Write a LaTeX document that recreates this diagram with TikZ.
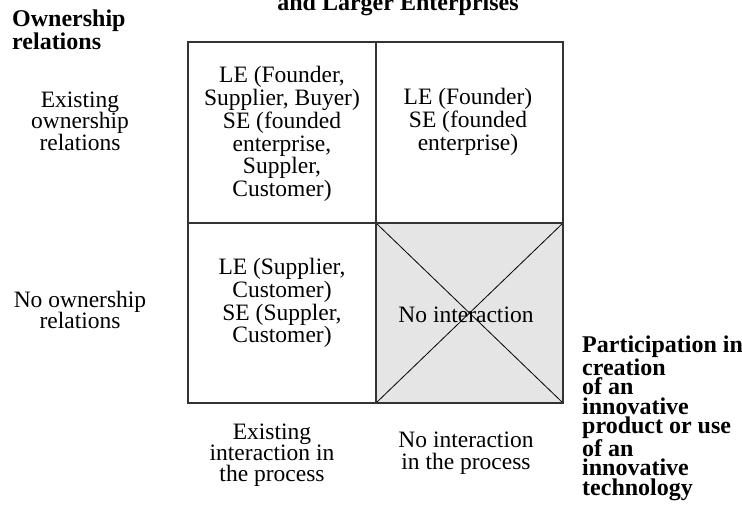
\documentclass[tikz,border=0pt]{standalone}
\usepackage{fontspec}
\setmainfont{Liberation Serif}
\begin{document}
\begin{tikzpicture}[x=1pt,y=-1pt,
  grid/.style={draw=black!80,line width=1.2pt},
  diag/.style={draw=black,line width=0.8pt},
  celltext/.style={align=center,inner sep=0pt,font=\fontsize{23.5}{22.7}\selectfont},
  sidetext/.style={align=center,inner sep=0pt,font=\fontsize{23.5}{21.5}\selectfont},
  boldtext/.style={align=left,inner sep=0pt,font=\bfseries\fontsize{24}{19.3}\selectfont}]
\useasboundingbox (0,0) rectangle (742,514);
% grid corners
\coordinate (tl) at (188,42);
\coordinate (tm) at (376,42);
\coordinate (tr) at (563,42);
\coordinate (ml) at (188,223);
\coordinate (mm) at (376,223);
\coordinate (mr) at (563,223);
\coordinate (bl) at (188,403);
\coordinate (bm) at (376,403);
\coordinate (br) at (563,403);
\fill[black!10] (mm) rectangle (br);
\draw[diag] (mm) -- (br);
\draw[diag] (mr) -- (bm);
\draw[grid] (tl) rectangle (br);
\draw[grid] (tm) -- (bm);
\draw[grid] (ml) -- (mr);
% title (clipped at top)
\node[anchor=base,inner sep=0pt,font=\bfseries\fontsize{24}{24}\selectfont] (title) at (398,10) {and Larger Enterprises};
% axis labels
\node[boldtext,font=\bfseries\fontsize{24}{21}\selectfont,anchor=base west] (own) at (12,49) {Ownership\\relations};
\node[boldtext,anchor=north west] (part) at (582,336) {Participation in\\creation\\of an\\innovative\\product or use\\of an\\innovative\\technology};
% row labels
\node[sidetext] (exown) at (80,121) {Existing\\ownership\\relations};
\node[sidetext] (noown) at (80,310) {No ownership\\relations};
% column labels
\node[sidetext,font=\fontsize{23.5}{20.5}\selectfont] (exint) at (272,455) {Existing\\interaction in\\the process};
\node[sidetext,font=\fontsize{23.5}{21.5}\selectfont] (noint) at (466,453) {No interaction\\in the process};
% cells
\node[celltext] (c11) at (282,134) {LE (Founder,\\Supplier, Buyer)\\SE (founded\\enterprise,\\Suppler,\\Customer)};
\node[celltext] (c12) at (468,122) {LE (Founder)\\SE (founded\\enterprise)};
\node[celltext] (c21) at (282,303) {LE (Supplier,\\Customer)\\SE (Suppler,\\Customer)};
\node[celltext] (c22) at (466,315) {No interaction};
\end{tikzpicture}
\end{document}
